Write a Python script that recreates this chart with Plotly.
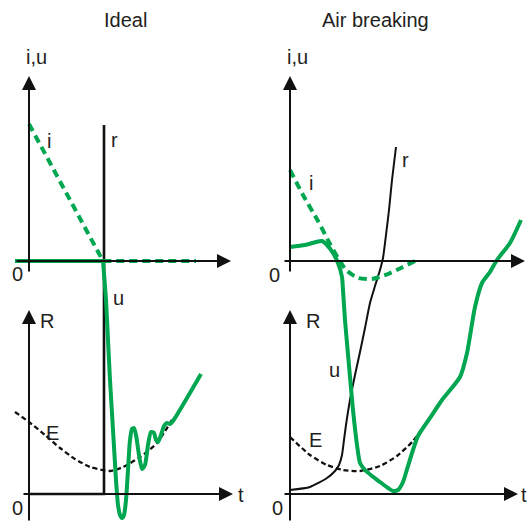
import plotly.graph_objects as go

GREEN = "#00a650"
BLACK = "#111111"

# ---- Ideal panel curves (schematic units: x to the right, y downward) ----
ideal_u_flat_x = [15, 103]
ideal_u_flat_y = [261, 261]
ideal_u_x = [103, 106, 108, 110, 113, 116, 118, 120, 122, 124, 126, 128, 130, 132, 134, 136, 139, 142, 145, 148, 151, 154, 156, 158, 161, 164, 167, 170, 173, 201]
ideal_u_y = [261, 300, 340, 380, 430, 480, 505, 515, 518, 515, 500, 470, 440, 429, 428, 435, 455, 469, 465, 445, 432, 433, 440, 442, 435, 426, 423, 424, 421, 374]
ideal_i_x = [29, 103, 196]
ideal_i_y = [124, 261, 261]
ideal_r_x = [29, 104, 104]
ideal_r_y = [494, 494, 125]
ideal_E_x = [15, 29, 45, 60, 75, 90, 110, 123, 140, 157, 173]
ideal_E_y = [412, 422, 435, 448, 459, 467, 471, 467, 457, 443, 418]

# ---- Air breaking panel curves ----
air_i_x = [290, 303, 318, 330, 338, 346, 358, 372, 388, 403, 415]
air_i_y = [170, 195, 221, 244, 258, 270, 278, 279, 274, 267, 261]
air_u_x = [290, 305, 316, 322, 327, 333, 338, 342, 343, 345, 347, 350, 353, 357, 360, 365, 372, 380, 388, 393, 398, 403, 408, 413, 418, 430, 442, 460, 467, 475, 482, 490, 497, 510, 521]
air_u_y = [247, 245, 242, 241, 245, 253, 263, 277, 290, 320, 343, 377, 410, 445, 463, 470, 476, 482, 488, 491, 490, 482, 466, 450, 436, 418, 400, 377, 353, 307, 283, 272, 260, 243, 220]
air_r_x = [290, 310, 327, 335, 339, 342, 344, 346, 350, 355, 360, 365, 370, 375, 380, 383, 386, 389, 392, 396]
air_r_y = [490, 487, 478, 471, 465, 455, 440, 425, 400, 375, 352, 328, 303, 286, 270, 258, 235, 210, 180, 147]
air_E_x = [290, 310, 327, 343, 360, 380, 397, 413, 430]
air_E_y = [437, 455, 465, 470, 471, 466, 456, 441, 417]

# ---- axes (start -> arrow tip) ----
axes_arrows = [
    ((29, 273), (29, 76)), ((15, 261), (231, 261)),
    ((29, 522), (29, 310)), ((22, 494), (233, 494)),
    ((290, 273), (290, 76)), ((283, 261), (525, 261)),
    ((290, 522), (290, 310)), ((283, 494), (518, 494)),
]

labels = ["Ideal", "Air breaking", "i,u", "i", "r", "0", "u", "R", "E", "t", "0",
          "i,u", "i", "r", "0", "u", "R", "E", "t", "0"]
label_x = [125, 375, 36, 49, 114, 17, 118, 47, 52, 241, 17,
           297, 311, 405, 274, 334, 313, 315, 524, 277]
label_y = [20, 20, 57, 141, 140, 274, 298, 321, 433, 495, 508,
           57, 183, 160, 275, 370, 321, 440, 495, 508]

fig = go.Figure()

def add(x, y, color, width, dash="solid", shape="linear"):
    fig.add_trace(go.Scatter(x=x, y=y, mode="lines",
                             line=dict(color=color, width=width, dash=dash, shape=shape,
                                       smoothing=0.6 if shape == "spline" else None),
                             hoverinfo="skip", showlegend=False))

# Ideal
add(ideal_E_x, ideal_E_y, BLACK, 2.3, dash="5px,3px", shape="spline")
add(ideal_r_x, ideal_r_y, BLACK, 2.6)
add(ideal_i_x, ideal_i_y, GREEN, 4, dash="8px,5px")
add(ideal_u_flat_x, ideal_u_flat_y, GREEN, 4)
add(ideal_u_x, ideal_u_y, GREEN, 4, shape="spline")

# Air breaking
add(air_E_x, air_E_y, BLACK, 2.3, dash="5px,3px", shape="spline")
add(air_r_x, air_r_y, BLACK, 2, shape="spline")
add(air_i_x, air_i_y, GREEN, 4, dash="8px,5px", shape="spline")
add(air_u_x, air_u_y, GREEN, 4, shape="spline")

annotations = []
for (sx, sy), (tx, ty) in axes_arrows:
    annotations.append(dict(x=tx, y=ty, ax=sx, ay=sy, xref="x", yref="y",
                            axref="x", ayref="y", showarrow=True, arrowhead=2,
                            arrowsize=1.4, arrowwidth=2, arrowcolor=BLACK, text=""))
for t, x, y in zip(labels, label_x, label_y):
    annotations.append(dict(x=x, y=y, xref="x", yref="y", text=t, showarrow=False,
                            xanchor="center", yanchor="middle",
                            font=dict(family="Liberation Sans, Arial", size=20, color="#231f20")))

fig.update_layout(
    width=527, height=522,
    margin=dict(l=0, r=0, t=0, b=0),
    paper_bgcolor="white", plot_bgcolor="white",
    xaxis=dict(range=[0, 527], visible=False, fixedrange=True),
    yaxis=dict(range=[522, 0], visible=False, fixedrange=True),
    annotations=annotations,
)

fig.write_html("out.html", config={"displayModeBar": False},
               post_script="document.body.style.margin='0';document.body.style.overflow='hidden';")
